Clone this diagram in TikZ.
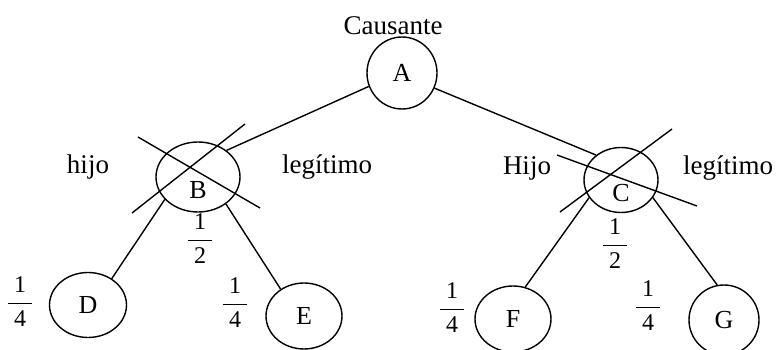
\documentclass[tikz,border=0pt]{standalone}
\usepackage{amsmath}
\usepackage{fontspec}
\setmainfont{Liberation Serif}
\usepackage{tikz}
\usetikzlibrary{shapes.geometric, calc}

\newcommand{\parte}[2]{$\genfrac{}{}{1.3pt}{0}{\makebox[24pt]{#1}}{\makebox[24pt]{#2}}$}
\newcommand{\bajo}[1]{\raisebox{-21pt}[0pt][0pt]{#1}}

\begin{document}
\begin{tikzpicture}[
    x=1pt, y=-1pt,
    persona/.style={ellipse, draw, line width=1.4pt, inner sep=0pt, font=\fontsize{26}{30}\selectfont},
    etiqueta/.style={anchor=base, font=\fontsize{27}{31}\selectfont},
    cuota/.style={inner sep=0pt, font=\fontsize{24}{28}\selectfont},
    rama/.style={line width=1.4pt},
    tacha/.style={line width=1.4pt},
]
\useasboundingbox (0,0) rectangle (779,350);

\node[persona, minimum width=70, minimum height=72] (A) at (402,73) {A};
\node[persona, minimum width=84, minimum height=70] (B) at (198,177) {\bajo{B}};
\node[persona, minimum width=74, minimum height=65] (C) at (621,180) {\bajo{C}};
\node[persona, minimum width=77, minimum height=65] (D) at (88,305) {D};
\node[persona, minimum width=76, minimum height=66] (E) at (304,316) {E};
\node[persona, minimum width=76, minimum height=66] (F) at (513,319) {F};
\node[persona, minimum width=70, minimum height=70] (G) at (724,320) {G};

\node[etiqueta] (causante) at (393,35) {Causante};
\node[etiqueta] (hijoB) at (88,173) {hijo};
\node[etiqueta] (legitimoB) at (327,173) {legítimo};
\node[etiqueta] (hijoC) at (527,175) {Hijo};
\node[etiqueta] (legitimoC) at (728,175) {legítimo};

\node[cuota] (mitadB) at (200,239) {\parte{1}{2}};
\node[cuota] (mitadC) at (615,244) {\parte{1}{2}};
\node[cuota] (cuartoD) at (20,302) {\parte{1}{4}};
\node[cuota] (cuartoE) at (235,303) {\parte{1}{4}};
\node[cuota] (cuartoF) at (452,308) {\parte{1}{4}};
\node[cuota] (cuartoG) at (648,306) {\parte{1}{4}};

\draw[rama] (A.202) -- (B.43);
\draw[rama] (A.335) -- (C.135);
\draw[rama] (B.214) -- (D.48);
\draw[rama] (B.316) -- (E.131);
\draw[rama] (C.209) -- (F.69);
\draw[rama] (C.331) -- (G.101);

% tachaduras
\draw[tacha] ($(B)+(-60,-40)$) -- ($(B)+(62,31)$);
\draw[tacha] ($(B)+(47,-53)$) -- ($(B)+(-66,36)$);
\draw[tacha] ($(C)+(-64,-25)$) -- ($(C)+(76,26)$);
\draw[tacha] ($(C)+(51,-51)$) -- ($(C)+(-61,32)$);
\end{tikzpicture}
\end{document}
